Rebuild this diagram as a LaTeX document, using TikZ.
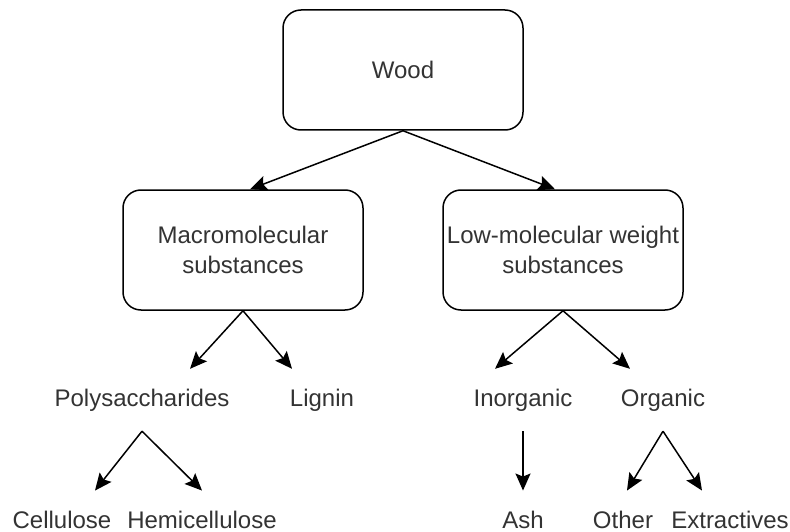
\documentclass[tikz,border=0pt]{standalone}
\usepackage{fontspec}
\setmainfont{Liberation Sans}
\usetikzlibrary{arrows.meta}
\definecolor{txt}{RGB}{51,51,51}
\begin{document}
\begin{tikzpicture}[x=1pt,y=-1pt,
  box/.style={draw, line width=1.5pt, rounded corners=18pt, minimum width=240pt,
    minimum height=120pt, align=center, inner sep=0pt,
    font=\fontsize{24}{30}\selectfont, text=txt},
  lbl/.style={inner sep=0pt, minimum height=62pt, text height=17.5pt, text depth=5pt,
    font=\fontsize{24}{30}\selectfont, text=txt},
  arr/.style={line width=1.5pt, -{Stealth[length=17pt,width=15pt,inset=3pt]}}]
\useasboundingbox (0,0) rectangle (790,532);
% boxes
\node[box] (wood) at (403,70) {Wood};
\node[box] (macro) at (243,250) {Macromolecular\\substances};
\node[box] (low) at (563,250) {Low-molecular weight\\substances};
% labels
\node[lbl] (poly) at (142,400) {Polysaccharides};
\node[lbl] (lig) at (322,400) {Lignin};
\node[lbl] (inorg) at (523,400) {Inorganic};
\node[lbl] (org) at (663,400) {Organic};
\node[lbl] (cell) at (62,521.75) {Cellulose};
\node[lbl] (hemi) at (202,521.75) {Hemicellulose};
\node[lbl] (ash) at (523,521.75) {Ash};
\node[lbl] (other) at (623,521.75) {Other};
\node[lbl] (extr) at (730,521.75) {Extractives};
% connectors
\draw[arr] (wood.south) -- ([xshift=7pt]macro.north);
\draw[arr] (wood.south) -- ([xshift=-8pt]low.north);
\draw[arr] (macro.south) -- ([xshift=48pt]poly.north);
\draw[arr] (macro.south) -- ([xshift=-30pt]lig.north);
\draw[arr] (low.south) -- ([xshift=-28pt]inorg.north);
\draw[arr] (low.south) -- ([xshift=-33pt]org.north);
\draw[arr] (poly.south) -- ([xshift=33pt]cell.north);
\draw[arr] (poly.south) -- (hemi.north);
\draw[arr] (inorg.south) -- (ash.north);
\draw[arr] (org.south) -- ([xshift=4pt]other.north);
\draw[arr] (org.south) -- ([xshift=-28pt]extr.north);
\end{tikzpicture}
\end{document}
